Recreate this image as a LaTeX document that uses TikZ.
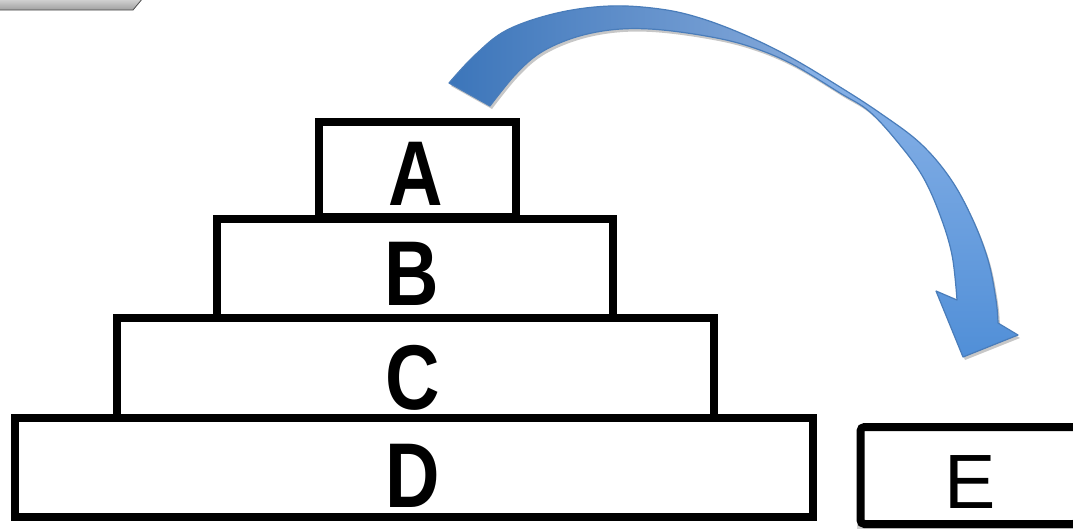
\documentclass[tikz,border=0pt]{standalone}
\usepackage{fontspec}
\setmainfont{Liberation Sans}
\definecolor{arrA}{HTML}{3A74B9}
\definecolor{arrB}{HTML}{86AADB}
\definecolor{arrC}{HTML}{8EB5E8}
\definecolor{arrD}{HTML}{9CC4F3}
\definecolor{arrE}{HTML}{4F8ED7}
\definecolor{arrLine}{HTML}{4A7DBA}
\newcommand{\arrowshape}{plot[smooth, tension=0.6] coordinates {(449,83) (475,55) (507,30) (557,13) (610,6) (660,9) (700,18) (745,35) (790,57) (840,87) (880,113) (920,143) (950,178) (972,218) (988,260) (996,300) (998,323)}
 -- (1018,335) -- (963,357) -- (936,291) --
 plot[smooth, tension=0.6] coordinates {(957,300) (952,255) (940,215) (923,177) (900,145) (870,112) (840,93) (790,63) (745,45) (700,35) (650,29) (610,30) (573,38) (540,53) (515,75) (490,106)} -- cycle}
\begin{document}
\begin{tikzpicture}[x=1pt,y=-1pt,
  tier/.style={draw=black, line width=8pt, inner sep=0pt, rectangle},
  bigletter/.style={inner sep=0pt, anchor=base, font=\fontsize{92}{92}\selectfont\bfseries},
  eletter/.style={inner sep=0pt, anchor=base, font=\fontsize{77}{77}\selectfont}]
\useasboundingbox (0,0) rectangle (1073,531);
\clip (0,0) rectangle (1073,531);
\fill[white] (0,0) rectangle (1073,531);
% small gray tab at top left
\shade[top color=gray!30, bottom color=gray!75, draw=gray!60!black, line width=0.8pt]
  (-2,-2) -- (143,-2) -- (133,10) -- (-2,10) -- cycle;
% pyramid tiers
\node[tier, minimum width=197, minimum height=95] (A) at (417.5,169.5) {};
\node[tier, minimum width=396, minimum height=99] (B) at (415,268.5) {};
\node[tier, minimum width=597, minimum height=100] (C) at (415,368) {};
\node[tier, minimum width=798, minimum height=99] (D) at (414,467.5) {};
\node[bigletter] (la) at (416,205) {\scalebox{0.82}[1]{A}};
\node[bigletter] (lb) at (412,305) {\scalebox{0.82}[1]{B}};
\node[bigletter] (lc) at (413,409) {\scalebox{0.82}[1]{C}};
\node[bigletter] (ld) at (413,507) {\scalebox{0.82}[1]{D}};
% box E
\fill[black, opacity=0.18] (857,431) rectangle (1080,529);
\node[tier, rounded corners=4pt, fill=white, minimum width=217, minimum height=97] (E) at (969,475.5) {};
\node[eletter] (le) at (970,508) {E};
% curved arrow
\fill[black, opacity=0.22, shift={(2,3)}] \arrowshape;
\begin{scope}
  \clip \arrowshape;
  \shade[left color=arrA, right color=arrB] (440,0) rectangle (815,120);
  \shade[top color=arrC, middle color=arrD, bottom color=arrE] (805,40) rectangle (1030,365);
\end{scope}
\draw[arrLine, line width=1.2pt, line join=round] \arrowshape;
\end{tikzpicture}
\end{document}
